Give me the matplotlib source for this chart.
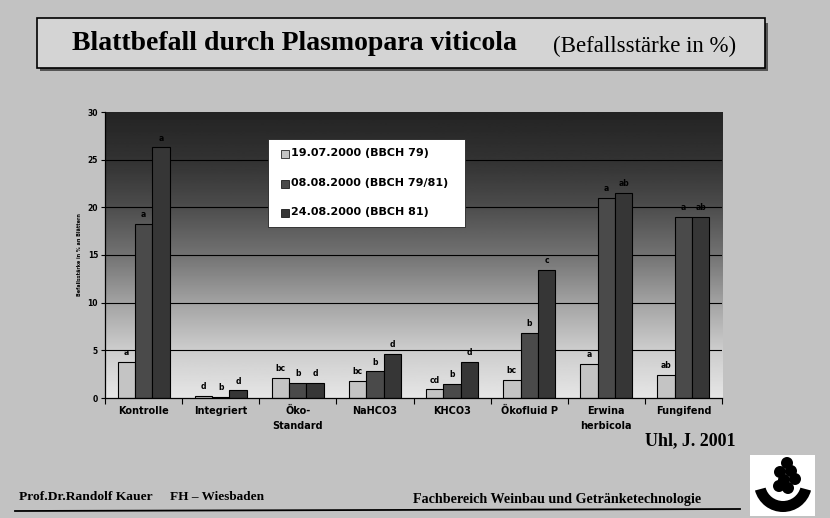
import matplotlib
matplotlib.use("Agg")
import matplotlib.pyplot as plt
import numpy as np
from matplotlib.patches import Rectangle, Circle, Wedge

categories = ["Kontrolle", "Integriert", "Öko-\nStandard", "NaHCO3", "KHCO3",
              "Ökofluid P", "Erwina\nherbicola", "Fungifend"]
series_names = ["19.07.2000 (BBCH 79)", "08.08.2000 (BBCH 79/81)", "24.08.2000 (BBCH 81)"]
v_1907 = [3.8, 0.2, 2.1, 1.8, 0.9, 1.9, 3.6, 2.4]
v_0808 = [18.3, 0.15, 1.6, 2.8, 1.5, 6.8, 21.0, 19.0]
v_2408 = [26.3, 0.8, 1.6, 4.6, 3.8, 13.4, 21.5, 19.0]
l_1907 = ["a", "d", "bc", "bc", "cd", "bc", "a", "ab"]
l_0808 = ["a", "b", "b", "b", "b", "b", "a", "a"]
l_2408 = ["a", "d", "d", "d", "d", "c", "ab", "ab"]
yticks = [0, 5, 10, 15, 20, 25, 30]

W, H = 830, 518
fig = plt.figure(figsize=(W / 100, H / 100), dpi=100)
fig.patch.set_facecolor("#c2c2c2")

def fx(x):
    return x / W

def fy(y):
    return 1 - y / H

# title box with shadow
fig.patches.append(Rectangle((fx(40), fy(71)), fx(765) - fx(37), fy(20) - fy(68),
                             transform=fig.transFigure, facecolor="#555555",
                             edgecolor="none", zorder=1))
fig.patches.append(Rectangle((fx(37), fy(68)), fx(765) - fx(37), fy(18) - fy(68),
                             transform=fig.transFigure, facecolor="#d4d4d4",
                             edgecolor="black", linewidth=1.2, zorder=2))
fig.text(fx(72), fy(43), "Blattbefall durch Plasmopara viticola", fontsize=20,
         fontweight="bold", family="Liberation Serif", va="center", ha="left", zorder=3)
fig.text(fx(553), fy(46), "(Befallsstärke in %)", fontsize=16.5,
         family="Liberation Serif", va="center", ha="left", zorder=3)

# axes
ax = fig.add_axes([fx(105), fy(398), fx(722) - fx(105), fy(112) - fy(398)])
n = len(categories)
ax.set_xlim(0, n)
ax.set_ylim(0, 30)

gy = np.linspace(0, 1, 256)
vals = np.interp(gy, [0, 0.17, 0.33, 0.5, 0.67, 0.83, 1.0],
                 [0.90, 0.80, 0.64, 0.45, 0.30, 0.20, 0.14]).reshape(-1, 1)
ax.imshow(vals, extent=(0, n, 0, 30), origin="lower", aspect="auto",
          cmap="gray", vmin=0, vmax=1, zorder=0)
ax.set_facecolor("#888888")

for t in yticks[1:-1]:
    ax.axhline(t, color="black", linewidth=0.8, zorder=1)

x = np.arange(n) + 0.5
bw = 0.225
colors = ["#c4c4c4", "#4a4a4a", "#363636"]
all_vals = [v_1907, v_0808, v_2408]
all_lbls = [l_1907, l_0808, l_2408]
for i, (vals_s, lbls, c) in enumerate(zip(all_vals, all_lbls, colors)):
    xs = x + (i - 1) * bw
    ax.bar(xs, vals_s, width=bw, color=c, edgecolor="black", linewidth=0.8, zorder=2)
    for xi, v, lb in zip(xs, vals_s, lbls):
        ax.text(xi, v + 0.5, lb, ha="center", va="bottom", fontsize=5.5,
                fontweight="bold", color="black", zorder=3)

ax.set_yticks(yticks)
ax.set_yticklabels([str(t) for t in yticks], fontsize=5.5, fontweight="bold")
ax.set_xticks(np.arange(0, n + 1))
ax.set_xticklabels([])
ax.set_xticks(x, minor=True)
ax.set_xticklabels(categories, minor=True, fontsize=7, fontweight="bold",
                   linespacing=1.6, va="top")
ax.tick_params(axis="x", which="minor", length=0, pad=6)
ax.tick_params(axis="x", which="major", length=4, direction="out", width=0.8)
ax.tick_params(axis="y", length=3, width=0.8, pad=2)
for s in ["top", "right"]:
    ax.spines[s].set_visible(False)
ax.spines["left"].set_linewidth(0.9)
ax.spines["bottom"].set_linewidth(0.9)
ax.set_ylabel("Befallsstärke in % an Blättern", fontsize=3.5, fontweight="bold", labelpad=4)

# legend
fig.patches.append(Rectangle((fx(268), fy(227)), fx(465) - fx(268), fy(139) - fy(227),
                             transform=fig.transFigure, facecolor="white",
                             edgecolor="#222222", linewidth=0.6, zorder=5))
for i, (name, c, yy) in enumerate(zip(series_names, colors, [153, 183, 212])):
    fig.patches.append(Rectangle((fx(281), fy(yy + 4.5)), fx(8), 8 / H,
                                 transform=fig.transFigure, facecolor=c,
                                 edgecolor="black", linewidth=0.5, zorder=6))
    fig.text(fx(291), fy(yy), name, fontsize=8, fontweight="bold",
             va="center", ha="left", zorder=6)

# footer
fig.text(fx(735), fy(441), "Uhl, J. 2001", fontsize=13, fontweight="bold",
         family="Liberation Serif", ha="right", va="center")
fig.text(fx(19), fy(497), "Prof.Dr.Randolf Kauer", fontsize=9.7, fontweight="bold",
         family="Liberation Serif", ha="left", va="center")
fig.text(fx(170), fy(497), "FH \u2013 Wiesbaden", fontsize=9.5, fontweight="bold",
         family="Liberation Serif", ha="left", va="center")
fig.text(fx(413), fy(500), "Fachbereich Weinbau und Getränketechnologie", fontsize=10.2,
         fontweight="bold", family="Liberation Serif", ha="left", va="center")
fig.add_artist(plt.Line2D([fx(15), fx(740)], [fy(511), fy(509)],
                          transform=fig.transFigure, color="black", linewidth=1.3))

# logo
lax = fig.add_axes([fx(750), fy(516), fx(65), fy(455) - fy(516)])
lax.set_xlim(0, 65)
lax.set_ylim(0, 61)
lax.set_facecolor("white")
lax.set_xticks([])
lax.set_yticks([])
for s in lax.spines.values():
    s.set_visible(False)
lax.add_patch(Wedge((33, 33), 29, 195, 345, width=11, facecolor="black"))
for cx, cy in [(37, 53), (30, 44), (41, 45), (34, 36), (45, 37), (38, 28), (29, 30)]:
    lax.add_patch(Circle((cx, cy), 6, facecolor="black"))

fig.savefig("out.png", dpi=100, facecolor=fig.get_facecolor())
